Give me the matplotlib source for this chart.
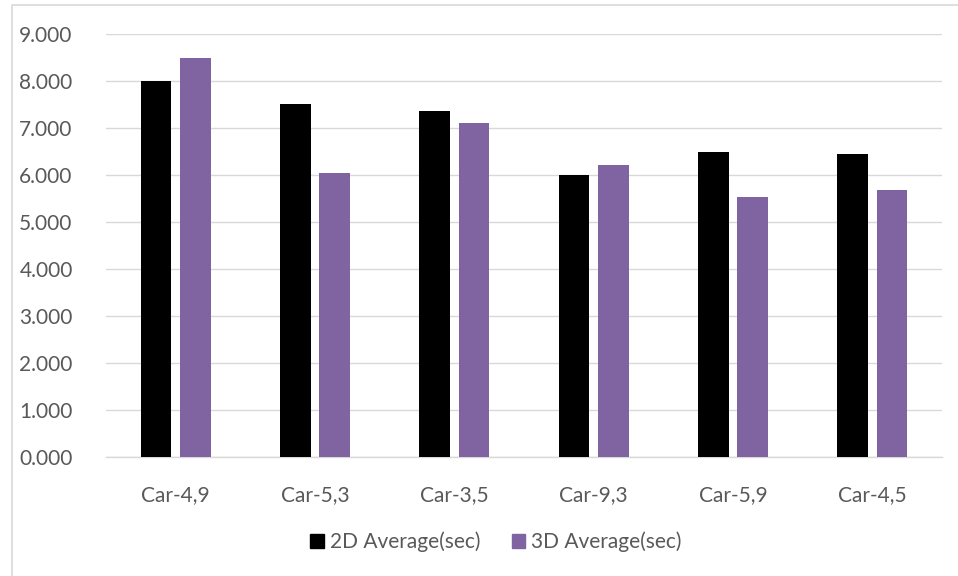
import numpy as np
import matplotlib
matplotlib.use('Agg')
import matplotlib.pyplot as plt
from matplotlib.patches import Rectangle, Patch

# average times per car pair
cars = ['Car-4,9', 'Car-5,3', 'Car-3,5', 'Car-9,3', 'Car-5,9', 'Car-4,5']
avg_2d = [8.01, 7.52, 7.37, 6.01, 6.48, 6.45]
avg_3d = [8.50, 6.04, 7.10, 6.21, 5.53, 5.68]
series_names = ['2D Average(sec)', '3D Average(sec)']
yticks = [0, 1, 2, 3, 4, 5, 6, 7, 8, 9]

plt.rcParams['font.family'] = ['Lato', 'DejaVu Sans']
TEXT = '#595959'
GRID = '#d9d9d9'
PURPLE = '#8064a2'

fig = plt.figure(figsize=(9.58, 5.76), dpi=100)
ax = fig.add_axes([106/958, 1 - 457/576, (942 - 106)/958, (457 - 34)/576])

x = np.arange(len(cars))
w = 0.222
off = 0.141
ax.bar(x - off, avg_2d, w, color='black', zorder=3, label=series_names[0])
ax.bar(x + off, avg_3d, w, color=PURPLE, zorder=3, label=series_names[1])

ax.set_xlim(-0.5, len(cars) - 0.5)
ax.set_ylim(0, 9)
ax.set_yticks(yticks)
ax.set_yticklabels(['{:.3f}'.format(v) for v in yticks])
ax.set_xticks(x)
ax.set_xticklabels(cars)

ax.grid(axis='y', color=GRID, linewidth=1.0, zorder=0)
for s in ['left', 'right', 'top']:
    ax.spines[s].set_visible(False)
ax.spines['bottom'].set_color(GRID)
ax.spines['bottom'].set_linewidth(1.0)
ax.tick_params(axis='both', length=0, labelsize=15, colors=TEXT)
ax.tick_params(axis='y', pad=24)
ax.tick_params(axis='x', pad=20)

handles = [Patch(color='black'), Patch(color=PURPLE)]
fig.legend(handles, series_names, loc='center', bbox_to_anchor=(496/958, 1 - 542/576),
           ncol=2, frameon=False, fontsize=15, labelcolor=TEXT,
           handlelength=0.65, handleheight=0.65, handletextpad=0.3, columnspacing=1.5)

# outer chart border, running off the right and bottom edges
fig.add_artist(Rectangle((12/958, -0.1), 1.2, 1.1 - 5/576, transform=fig.transFigure,
                         fill=False, edgecolor=GRID, linewidth=1.2))

fig.savefig('out.png', dpi=100)
